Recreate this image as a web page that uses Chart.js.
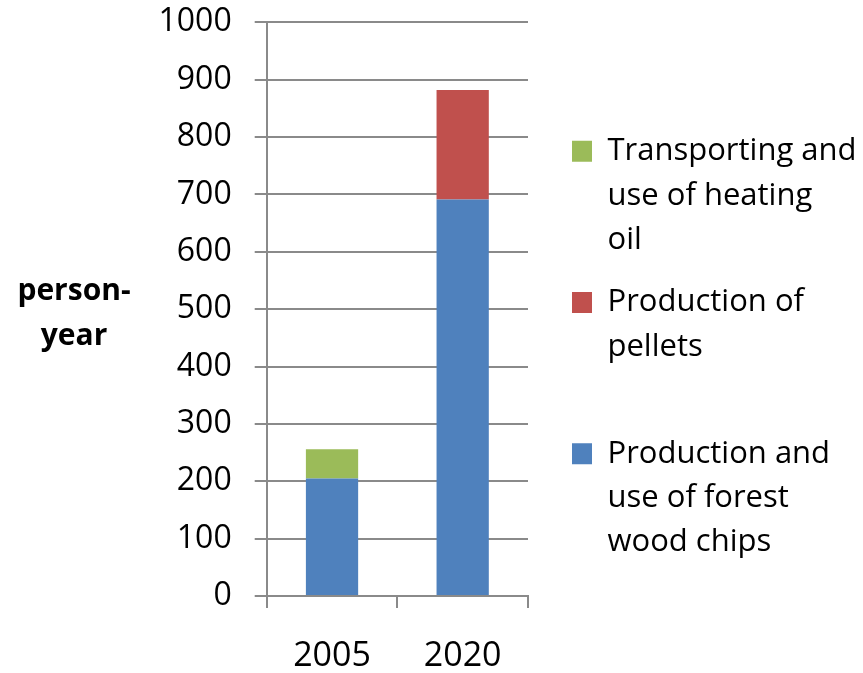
<!DOCTYPE html>
<html>
<head>
<meta charset="utf-8">
<script src="https://cdn.jsdelivr.net/npm/chart.js@4.4.1/dist/chart.umd.min.js"></script>
<style>
  html, body { margin: 0; padding: 0; background: #ffffff; }
  #wrap { width: 863px; height: 673px; position: relative; }
</style>
</head>
<body>
<div id="wrap"><canvas id="c" width="863" height="673"></canvas></div>
<script>
// ---- data ----
const categories = ['2005', '2020'];
const forestChips = [205, 691];
const pellets = [null, 191];
const heatingOil = [51, null];
const seriesNames = ['Production and use of forest wood chips', 'Production of pellets', 'Transporting and use of heating oil'];
const legendLines = [
  ['Production and', 'use of forest', 'wood chips'],
  ['Production of', 'pellets', ''],
  ['Transporting and', 'use of heating', 'oil']
];
const yMin = 0;
const yMax = 1000;
const yStep = 100;
const yTitleLines = ['person-', 'year'];

// ---- styles ----
const FONT = "'Open Sans', 'Noto Sans', sans-serif";
const GRID = '#8a8a8a';
Chart.defaults.font.family = FONT;
Chart.defaults.color = '#000000';

const yTitlePlugin = {
  id: 'yTitle',
  afterDraw(chart) {
    const ctx = chart.ctx;
    ctx.save();
    ctx.font = "bold 30px " + FONT;
    ctx.fillStyle = '#000000';
    ctx.textAlign = 'center';
    ctx.textBaseline = 'alphabetic';
    ctx.fillText(yTitleLines[0], 74, 300);
    ctx.fillText(yTitleLines[1], 74, 345);
    ctx.restore();
  }
};

new Chart(document.getElementById('c'), {
  type: 'bar',
  data: {
    labels: categories,
    datasets: [
      { label: seriesNames[0], data: forestChips, backgroundColor: '#4F81BD' },
      { label: seriesNames[1], data: pellets, backgroundColor: '#C0504D' },
      { label: seriesNames[2], data: heatingOil, backgroundColor: '#9BBB59' }
    ]
  },
  options: {
    responsive: false,
    animation: false,
    events: [],
    layout: { padding: { top: 22.3, left: 0, right: 0, bottom: 0 } },
    datasets: { bar: { barPercentage: 0.4, categoryPercentage: 1.0, borderWidth: 0 } },
    scales: {
      x: {
        stacked: true,
        grid: { display: true, drawOnChartArea: false, drawTicks: true, tickLength: 12, color: GRID, lineWidth: 2, offset: true },
        border: { display: true, color: GRID, width: 2 },
        ticks: { font: { size: 34 }, color: '#000000', padding: 28, maxRotation: 0 },
        afterFit(s) { s.height = 77; s.paddingLeft = 0; s.paddingRight = 0; }
      },
      y: {
        stacked: true,
        min: yMin,
        max: yMax,
        grid: { display: true, drawTicks: true, tickLength: 12, color: GRID, lineWidth: 2 },
        border: { display: true, color: GRID, width: 2 },
        ticks: { stepSize: yStep, font: { size: 32 }, color: '#000000', padding: 23, callback: v => String(v) },
        afterFit(s) { s.width = 266.7; s.paddingTop = 0; s.paddingBottom = 0; }
      },
      y2: {
        position: 'right',
        display: true,
        grid: { display: false, drawTicks: false },
        border: { display: false },
        ticks: { display: false },
        afterFit(s) { s.width = 26; s.paddingTop = 0; s.paddingBottom = 0; }
      }
    },
    plugins: {
      tooltip: { enabled: false },
      legend: {
        position: 'right',
        align: 'center',
        reverse: true,
        maxWidth: 309,
        title: { display: true, text: '', padding: 0, font: { size: 12, lineHeight: 1 } },
        labels: {
          boxWidth: 20,
          boxHeight: 21,
          padding: 18,
          color: '#000000',
          font: { size: 31, lineHeight: 44.4 / 31 },
          generateLabels(chart) {
            const items = Chart.defaults.plugins.legend.labels.generateLabels(chart);
            items.forEach(it => { it.text = legendLines[it.datasetIndex]; it.lineWidth = 0; });
            return items;
          }
        }
      }
    }
  },
  plugins: [yTitlePlugin]
});
</script>
</body>
</html>
